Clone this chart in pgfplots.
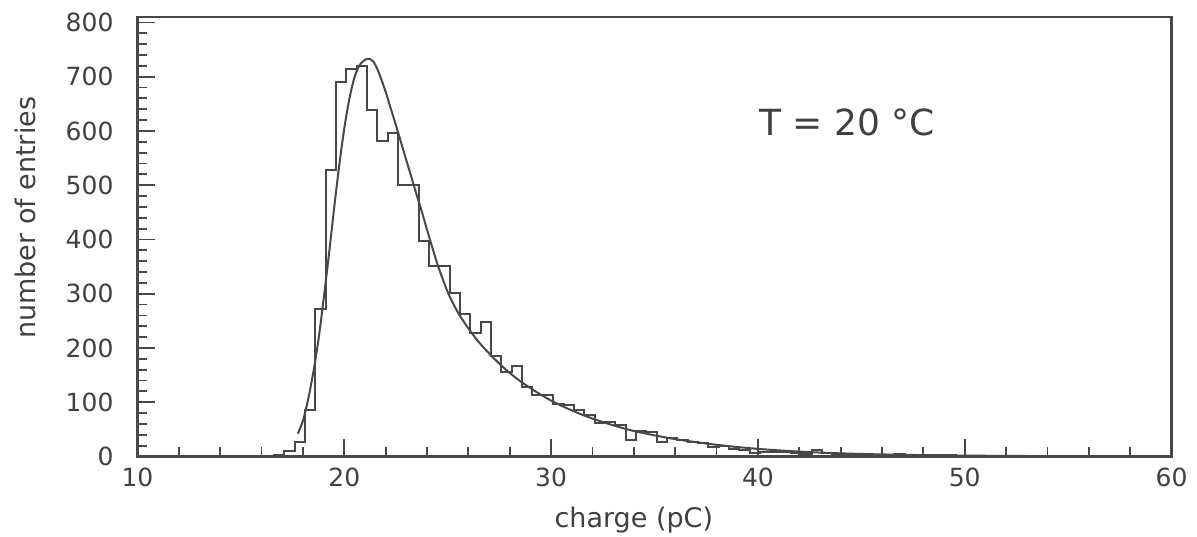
\documentclass[border=0pt]{standalone}
\usepackage{fontspec}
\setmainfont{DejaVu Sans}
\usepackage{pgfplots}
\pgfplotsset{compat=1.18}
\usetikzlibrary{calc}
\definecolor{ink}{RGB}{72,72,72}
\definecolor{txt}{RGB}{64,64,64}
\begin{document}
\begin{tikzpicture}
\begin{axis}[
  name=ax, scale only axis, width=517pt, height=219.75pt,
  xmin=10, xmax=60, ymin=0, ymax=810,
  xtick={10,20,...,60}, ytick={0,100,...,800},
  minor x tick num=4, minor y tick num=4,
  tick pos=left, tick align=inside,
  major tick length=8.5pt, minor tick length=4.5pt,
  axis line style={ink, line width=1.1pt},
  every tick/.style={ink, line width=0.9pt},
  /pgf/number format/assume math mode=true,
  ticklabel style={font=\fontsize{12.5}{14}\selectfont, text=txt},
  yticklabel style={xshift=-8.5pt},
  xticklabel style={yshift=-2pt},
  xlabel={charge (pC)}, ylabel={number of entries},
  label style={font=\fontsize{13.5}{16}\selectfont, text=txt},
  xlabel style={at={(axis description cs:0.48,-0.099)}, anchor=north},
  ylabel style={at={(axis description cs:-0.0914,0.543)}, anchor=south},
  clip=false,
]
% histogram (left bin edge, entries), bin width 0.5
\addplot[const plot, ink, line width=1pt] coordinates {
(16.1,1) (16.6,3) (17.1,10) (17.6,27) (18.1,85) (18.6,271) (19.1,528) (19.6,691)
(20.1,714) (20.6,720) (21.1,639) (21.6,581) (22.1,597) (22.6,500) (23.1,500)
(23.6,398) (24.1,351) (24.6,351) (25.1,302) (25.6,262) (26.1,227) (26.6,248)
(27.1,185) (27.6,156) (28.1,166) (28.6,128) (29.1,113) (29.6,113) (30.1,96)
(30.6,94) (31.1,85) (31.6,77) (32.1,62) (32.6,64) (33.1,58) (33.6,31) (34.1,47)
(34.6,46) (35.1,27) (35.6,34) (36.1,30) (36.6,26) (37.1,24) (37.6,17) (38.1,20)
(38.6,14) (39.1,12) (39.6,6) (40.1,9) (40.6,8) (41.1,8) (41.6,7) (42.1,4)
(42.6,12) (43.1,6) (43.6,4) (44.1,3) (44.6,3) (45.1,3) (45.6,2) (46.1,3)
(46.6,4) (47.1,2) (47.6,2) (48.1,3) (48.6,3) (49.1,2) (49.6,1) (50.1,1)
(50.6,1) (51.1,1) (51.6,0) (52.1,1) (52.6,0) (53.1,0) (53.6,1) (54.1,0)
(54.6,0) (55.1,0) (55.6,0) (56.1,1) (56.6,0) (57.1,0) (57.6,0) (58.1,0)
(58.6,0) (59.1,0) (59.6,0) (60,0)
};
% fitted curve
\addplot[smooth, ink, line width=1pt] coordinates {
(17.75,42) (18.0,66) (18.25,105) (18.5,155) (18.75,215) (19.0,290) (19.25,370)
(19.5,455) (19.75,535) (20.0,605) (20.25,660) (20.5,700) (20.75,722) (21.0,731)
(21.2,733) (21.4,728) (21.6,714) (21.8,694) (22.0,672) (22.25,641) (22.5,610)
(22.75,578) (23.0,546) (23.25,514) (23.5,482) (23.75,451) (24.0,418) (24.25,386)
(24.5,355) (24.75,328) (25.0,303) (25.25,283) (25.5,265) (25.75,250) (26.0,236)
(26.5,211) (27.0,190) (27.5,171) (28.0,154) (28.5,139) (29.0,126) (29.5,114)
(30.0,103) (30.5,93.5) (31.0,85) (31.5,77) (32.0,70) (32.5,63.5) (33.0,57.5)
(33.5,52) (34.0,47) (35.0,39) (36.0,32) (37.0,26.5) (38.0,21.5) (39.0,17.5)
(40.0,14) (41.0,11.3) (42.0,9) (43.0,7.2) (44.0,5.8) (45.0,4.7) (46.0,3.8)
(48.0,2.5) (50.0,1.7) (52.0,1.1) (55.0,0.6) (60.0,0.2)
};
\node[font=\fontsize{18}{20}\selectfont, text=txt] at (axis cs:44.3,615) {T = 20 °C};
\end{axis}
\pgfresetboundingbox
\path ($(ax.south west)+(-68.75pt,-40.25pt)$) rectangle ($(ax.north east)+(12.75pt,8.5pt)$);
\end{tikzpicture}
\end{document}
